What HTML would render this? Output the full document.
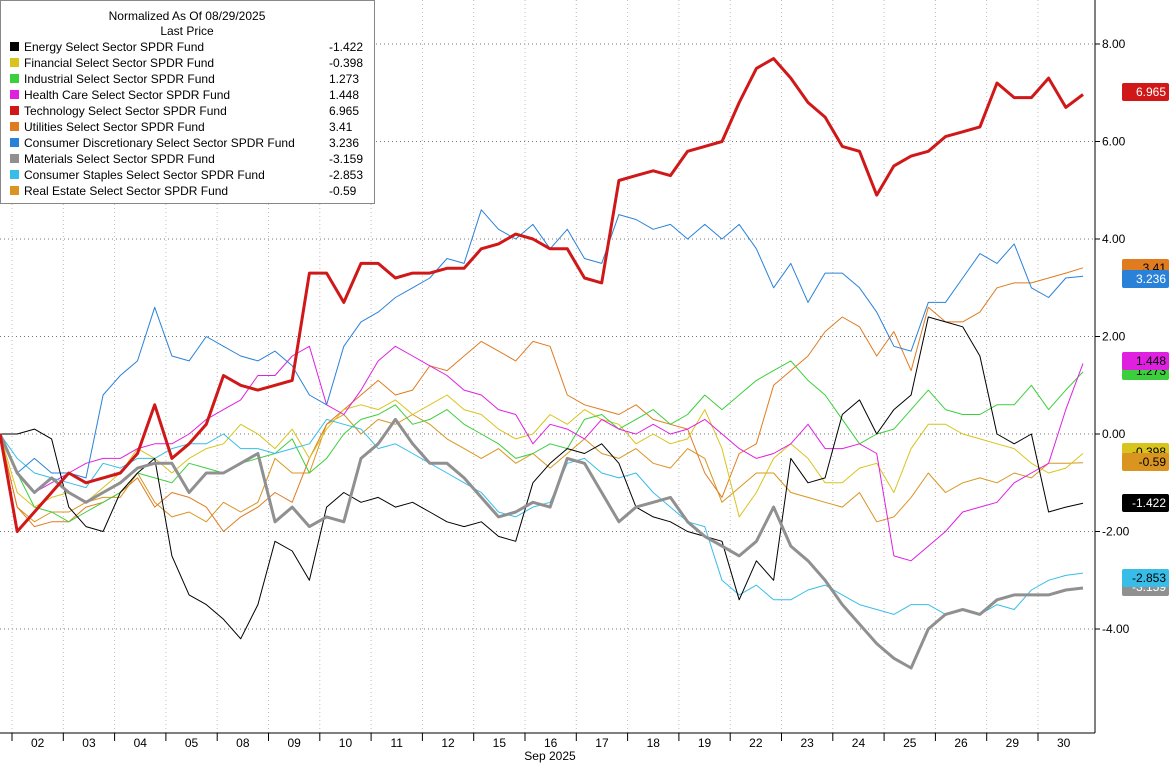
<!DOCTYPE html>
<html><head><meta charset="utf-8"><style>
body{margin:0;background:#fff;font-family:"Liberation Sans",sans-serif;}
svg{display:block}
</style></head><body>
<svg id="chart" width="1171" height="763" xmlns="http://www.w3.org/2000/svg" font-family="Liberation Sans, sans-serif"></svg>
<script>
const days=["02","03","04","05","08","09","10","11","12","15","16","17","18","19","22","23","24","25","26","29","30"];
const yTicks=[8,6,4,2,0,-2,-4];
const names=["Energy Select Sector SPDR Fund","Financial Select Sector SPDR Fund","Industrial Select Sector SPDR Fund","Health Care Select Sector SPDR Fund","Technology Select Sector SPDR Fund","Utilities Select Sector SPDR Fund","Consumer Discretionary Select Sector SPDR Fund","Materials Select Sector SPDR Fund","Consumer Staples Select Sector SPDR Fund","Real Estate Select Sector SPDR Fund"];
const lastVals=["-1.422","-0.398","1.273","1.448","6.965","3.41","3.236","-3.159","-2.853","-0.59"];
const colors=["#000000","#d8c41c","#3ccf3c","#e020e0","#d01818","#e07b20","#2a82d8","#909090","#38bde8","#d99520"];
const widths=[1,1,1,1,3,1,1,3,1,1];
const energy=[0,0.0,0.1,-0.1,-1.5,-1.9,-2.0,-1.2,-0.8,-0.5,-2.5,-3.3,-3.5,-3.8,-4.2,-3.5,-2.2,-2.4,-3.0,-1.5,-1.2,-1.4,-1.3,-1.5,-1.4,-1.6,-1.8,-1.9,-1.8,-2.1,-2.2,-1.0,-0.6,-0.3,-0.4,-0.2,-0.6,-1.5,-1.7,-1.8,-2.0,-2.1,-2.2,-3.4,-2.6,-3.0,-0.5,-1.0,-0.9,0.4,0.7,0.0,0.5,0.8,2.4,2.3,2.2,1.6,0.0,-0.2,0.0,-1.6,-1.5,-1.422];
const financial=[0,-1.2,-1.5,-1.3,-1.2,-1.4,-1.1,-0.8,-0.3,-0.5,-0.8,-0.5,-0.3,-0.2,0.2,0.0,-0.3,0.1,-0.5,0.1,0.5,0.6,0.5,0.7,0.4,0.6,0.8,0.5,0.4,0.1,-0.1,0.0,0.4,0.2,0.5,0.3,0.2,-0.2,0.0,-0.2,-0.1,0.5,-0.3,-1.7,-1.2,-0.5,-0.2,-0.5,-1.0,-1.0,-0.7,-0.6,-1.2,-0.3,0.2,0.2,0.0,-0.1,-0.2,-0.3,-0.6,-0.8,-0.7,-0.398];
const industrial=[0,-0.8,-1.5,-1.6,-1.8,-1.6,-1.4,-1.2,-0.8,-0.9,-1.0,-0.6,-0.7,-0.8,-0.6,-0.5,-0.4,-0.1,-0.8,-0.5,0.0,0.3,0.4,0.6,0.2,0.3,0.5,0.2,0.0,-0.2,-0.5,-0.4,-0.2,-0.3,0.3,0.4,0.1,0.3,0.5,0.2,0.4,0.8,0.5,0.8,1.1,1.3,1.5,1.1,0.8,0.3,-0.2,0.0,0.1,0.5,0.9,0.5,0.4,0.4,0.6,0.6,1.0,0.5,0.9,1.273];
const health=[0,-0.8,-1.2,-1.0,-0.8,-0.6,-0.5,-0.5,-0.3,-0.2,-0.2,0.0,0.3,0.5,0.7,1.2,1.2,1.6,1.8,0.6,0.4,0.9,1.5,1.8,1.6,1.4,1.2,0.9,0.8,0.5,0.4,-0.2,0.2,0.1,-0.1,0.3,0.1,0.0,0.2,0.0,0.1,0.3,0.0,-0.3,-0.5,-0.4,-0.2,0.2,-0.3,-0.3,-0.2,-0.4,-2.5,-2.6,-2.3,-2.0,-1.6,-1.5,-1.4,-1.0,-0.8,-0.6,0.5,1.448];
const tech=[0,-2.0,-1.6,-1.2,-0.8,-1.0,-0.9,-0.8,-0.4,0.6,-0.5,-0.2,0.2,1.2,1.0,0.9,1.0,1.1,3.3,3.3,2.7,3.5,3.5,3.2,3.3,3.3,3.4,3.4,3.8,3.9,4.1,4.0,3.8,3.8,3.2,3.1,5.2,5.3,5.4,5.3,5.8,5.9,6.0,6.8,7.5,7.7,7.3,6.8,6.5,5.9,5.8,4.9,5.5,5.7,5.8,6.1,6.2,6.3,7.2,6.9,6.9,7.3,6.7,6.965];
const utilities=[0,-1.5,-1.9,-1.8,-1.8,-1.5,-1.4,-1.2,-0.9,-1.5,-1.2,-1.3,-1.5,-2.0,-1.7,-1.5,-1.2,-1.4,-0.5,0.2,0.5,0.8,1.1,0.8,0.9,1.4,1.3,1.6,1.9,1.7,1.5,1.9,1.8,0.8,0.6,0.5,0.4,0.6,0.3,0.2,0.1,-0.8,-1.3,-0.4,-0.2,1.0,1.3,1.6,2.1,2.4,2.2,1.6,2.1,1.3,2.6,2.3,2.3,2.5,3.0,3.1,3.1,3.2,3.3,3.41];
const discretionary=[0,-0.8,-0.5,-0.8,-0.8,-0.9,0.8,1.2,1.5,2.6,1.6,1.5,2.0,1.8,1.6,1.5,1.7,1.4,0.8,0.6,1.8,2.3,2.5,2.8,3.0,3.2,3.6,3.5,4.6,4.2,4.0,4.3,3.8,4.2,3.6,3.5,4.5,4.4,4.2,4.3,4.0,4.3,4.0,4.3,3.8,3.0,3.5,2.7,3.3,3.3,3.0,2.5,1.8,1.7,2.7,2.7,3.2,3.7,3.5,3.9,3.0,2.8,3.2,3.236];
const materials=[0,-0.8,-1.2,-0.9,-1.2,-1.4,-1.2,-1.0,-0.7,-0.6,-0.6,-1.2,-0.8,-0.8,-0.6,-0.4,-1.8,-1.5,-1.9,-1.7,-1.8,-0.5,-0.2,0.3,-0.2,-0.6,-0.6,-0.9,-1.3,-1.7,-1.6,-1.4,-1.5,-0.5,-0.6,-1.2,-1.8,-1.5,-1.4,-1.3,-1.8,-2.1,-2.3,-2.5,-2.2,-1.5,-2.3,-2.6,-3.0,-3.5,-3.9,-4.3,-4.6,-4.8,-4.0,-3.7,-3.6,-3.7,-3.4,-3.3,-3.3,-3.3,-3.2,-3.159];
const staples=[0,-0.5,-0.8,-0.9,-1.0,-1.1,-0.6,-0.7,-0.5,-0.5,-0.3,-0.2,-0.2,0.0,-0.3,-0.3,-0.4,-0.3,-0.2,0.3,0.2,0.1,-0.3,-0.2,-0.4,-0.6,-0.8,-1.0,-1.2,-1.6,-1.7,-1.5,-1.4,-0.6,-0.5,-0.8,-0.9,-0.8,-1.2,-1.5,-1.8,-1.9,-3.0,-3.3,-3.1,-3.4,-3.4,-3.2,-3.1,-3.3,-3.5,-3.6,-3.7,-3.5,-3.5,-3.7,-3.6,-3.7,-3.5,-3.6,-3.2,-3.0,-2.9,-2.853];
const realestate=[0,-1.5,-1.8,-1.6,-1.6,-1.4,-1.3,-1.3,-0.8,-1.4,-1.7,-1.6,-1.8,-1.4,-1.6,-1.4,-0.5,-0.8,-0.8,0.2,0.4,0.0,0.3,0.2,0.4,0.2,-0.1,-0.3,-0.5,-0.3,-0.6,-0.4,-0.7,-0.4,-0.1,-0.4,-0.5,-0.3,-0.6,-0.7,-0.3,-0.5,-1.4,-1.1,-0.8,-0.8,-1.2,-1.3,-1.4,-1.5,-1.2,-1.8,-1.7,-1.3,-0.8,-1.2,-1.0,-0.9,-1.0,-0.8,-0.9,-0.6,-0.6,-0.59];
const series=[energy,financial,industrial,health,tech,utilities,discretionary,materials,staples,realestate];
const labelPos=[503,452,371,361,92,268,279,587,578,462];

const NS="http://www.w3.org/2000/svg";
const svg=document.getElementById('chart');
function mk(t,a,p){const e=document.createElementNS(NS,t);for(const k in a)e.setAttribute(k,a[k]);(p||svg).appendChild(e);return e;}
const yS=v=>434-v*48.75;
const N=energy.length;
const xS=i=>i*(1083/(N-1));
const plotR=1095, plotB=733;

// grid
yTicks.forEach(v=>{
  const g=mk('line',{x1:0,x2:plotR,y1:yS(v),y2:yS(v),stroke:'#777','stroke-dasharray':'1,3','stroke-width':1});
  
  
  const t=mk('text',{x:1102,y:yS(v)+4,'font-size':12,fill:'#000'});
  t.textContent=v.toFixed(2);
  
  
  mk('line',{x1:plotR,x2:plotR+5,y1:yS(v),y2:yS(v),stroke:'#000'});
});
const dayW=51.3, day0=12;
days.forEach((d,i)=>{
  const xb=day0+i*dayW;
  const gl=mk('line',{x1:xb,x2:xb,y1:0,y2:plotB,stroke:'#bbb','stroke-dasharray':'1,3'});
  
  
  mk('line',{x1:xb,x2:xb,y1:plotB,y2:plotB+8,stroke:'#000'});
  const t=mk('text',{x:xb+dayW/2,y:747,'font-size':12,'text-anchor':'middle',fill:'#000'});
  t.textContent=d;
  
  
});
mk('line',{x1:0,x2:plotR,y1:plotB,y2:plotB,stroke:'#000'});
mk('line',{x1:plotR,x2:plotR,y1:0,y2:plotB,stroke:'#000'});
const xt=mk('text',{x:550,y:760,'font-size':12,'text-anchor':'middle'});xt.textContent='Sep 2025';



// series (thin first, thick last)
const order=[9,5,1,2,3,8,6,0,7,4];
order.forEach(k=>{
  const d=series[k].map((v,i)=>(i?'L':'M')+xS(i).toFixed(1)+','+yS(v).toFixed(1)).join('');
  const p=mk('path',{d:d,fill:'none',stroke:colors[k],'stroke-width':widths[k],'stroke-linejoin':'round'});
  
  
});

// right labels
series.forEach((s,k)=>{
  const y=labelPos[k];
  const r=mk('rect',{x:1122,y:y-9,width:47,height:18,rx:2,fill:colors[k]});
  
  
  const t=mk('text',{x:1166,y:y+4,'font-size':12,'text-anchor':'end',fill:(k==0||k==4||k==7||k==6)?'#fff':'#000'});
  t.textContent=lastVals[k];
  
  
});

// legend
const lg=mk('g',{});


mk('rect',{x:0.5,y:0.5,width:374,height:203,fill:'#fff',stroke:'#888'},lg);
const t1=mk('text',{x:187,y:20,'font-size':12,'text-anchor':'middle'},lg);t1.textContent='Normalized As Of 08/29/2025';
const t2=mk('text',{x:187,y:35,'font-size':12,'text-anchor':'middle'},lg);t2.textContent='Last Price';
names.forEach((n,k)=>{
  const y=47+k*16;
  const e=mk('g',{},lg);
  
  
  mk('rect',{x:10,y:y-5,width:9,height:9,fill:colors[k]},e);
  const a=mk('text',{x:24,y:y+4,'font-size':12},e);a.textContent=n;
  const b=mk('text',{x:329,y:y+4,'font-size':12},e);b.textContent=lastVals[k];
});
</script>
</body></html>
